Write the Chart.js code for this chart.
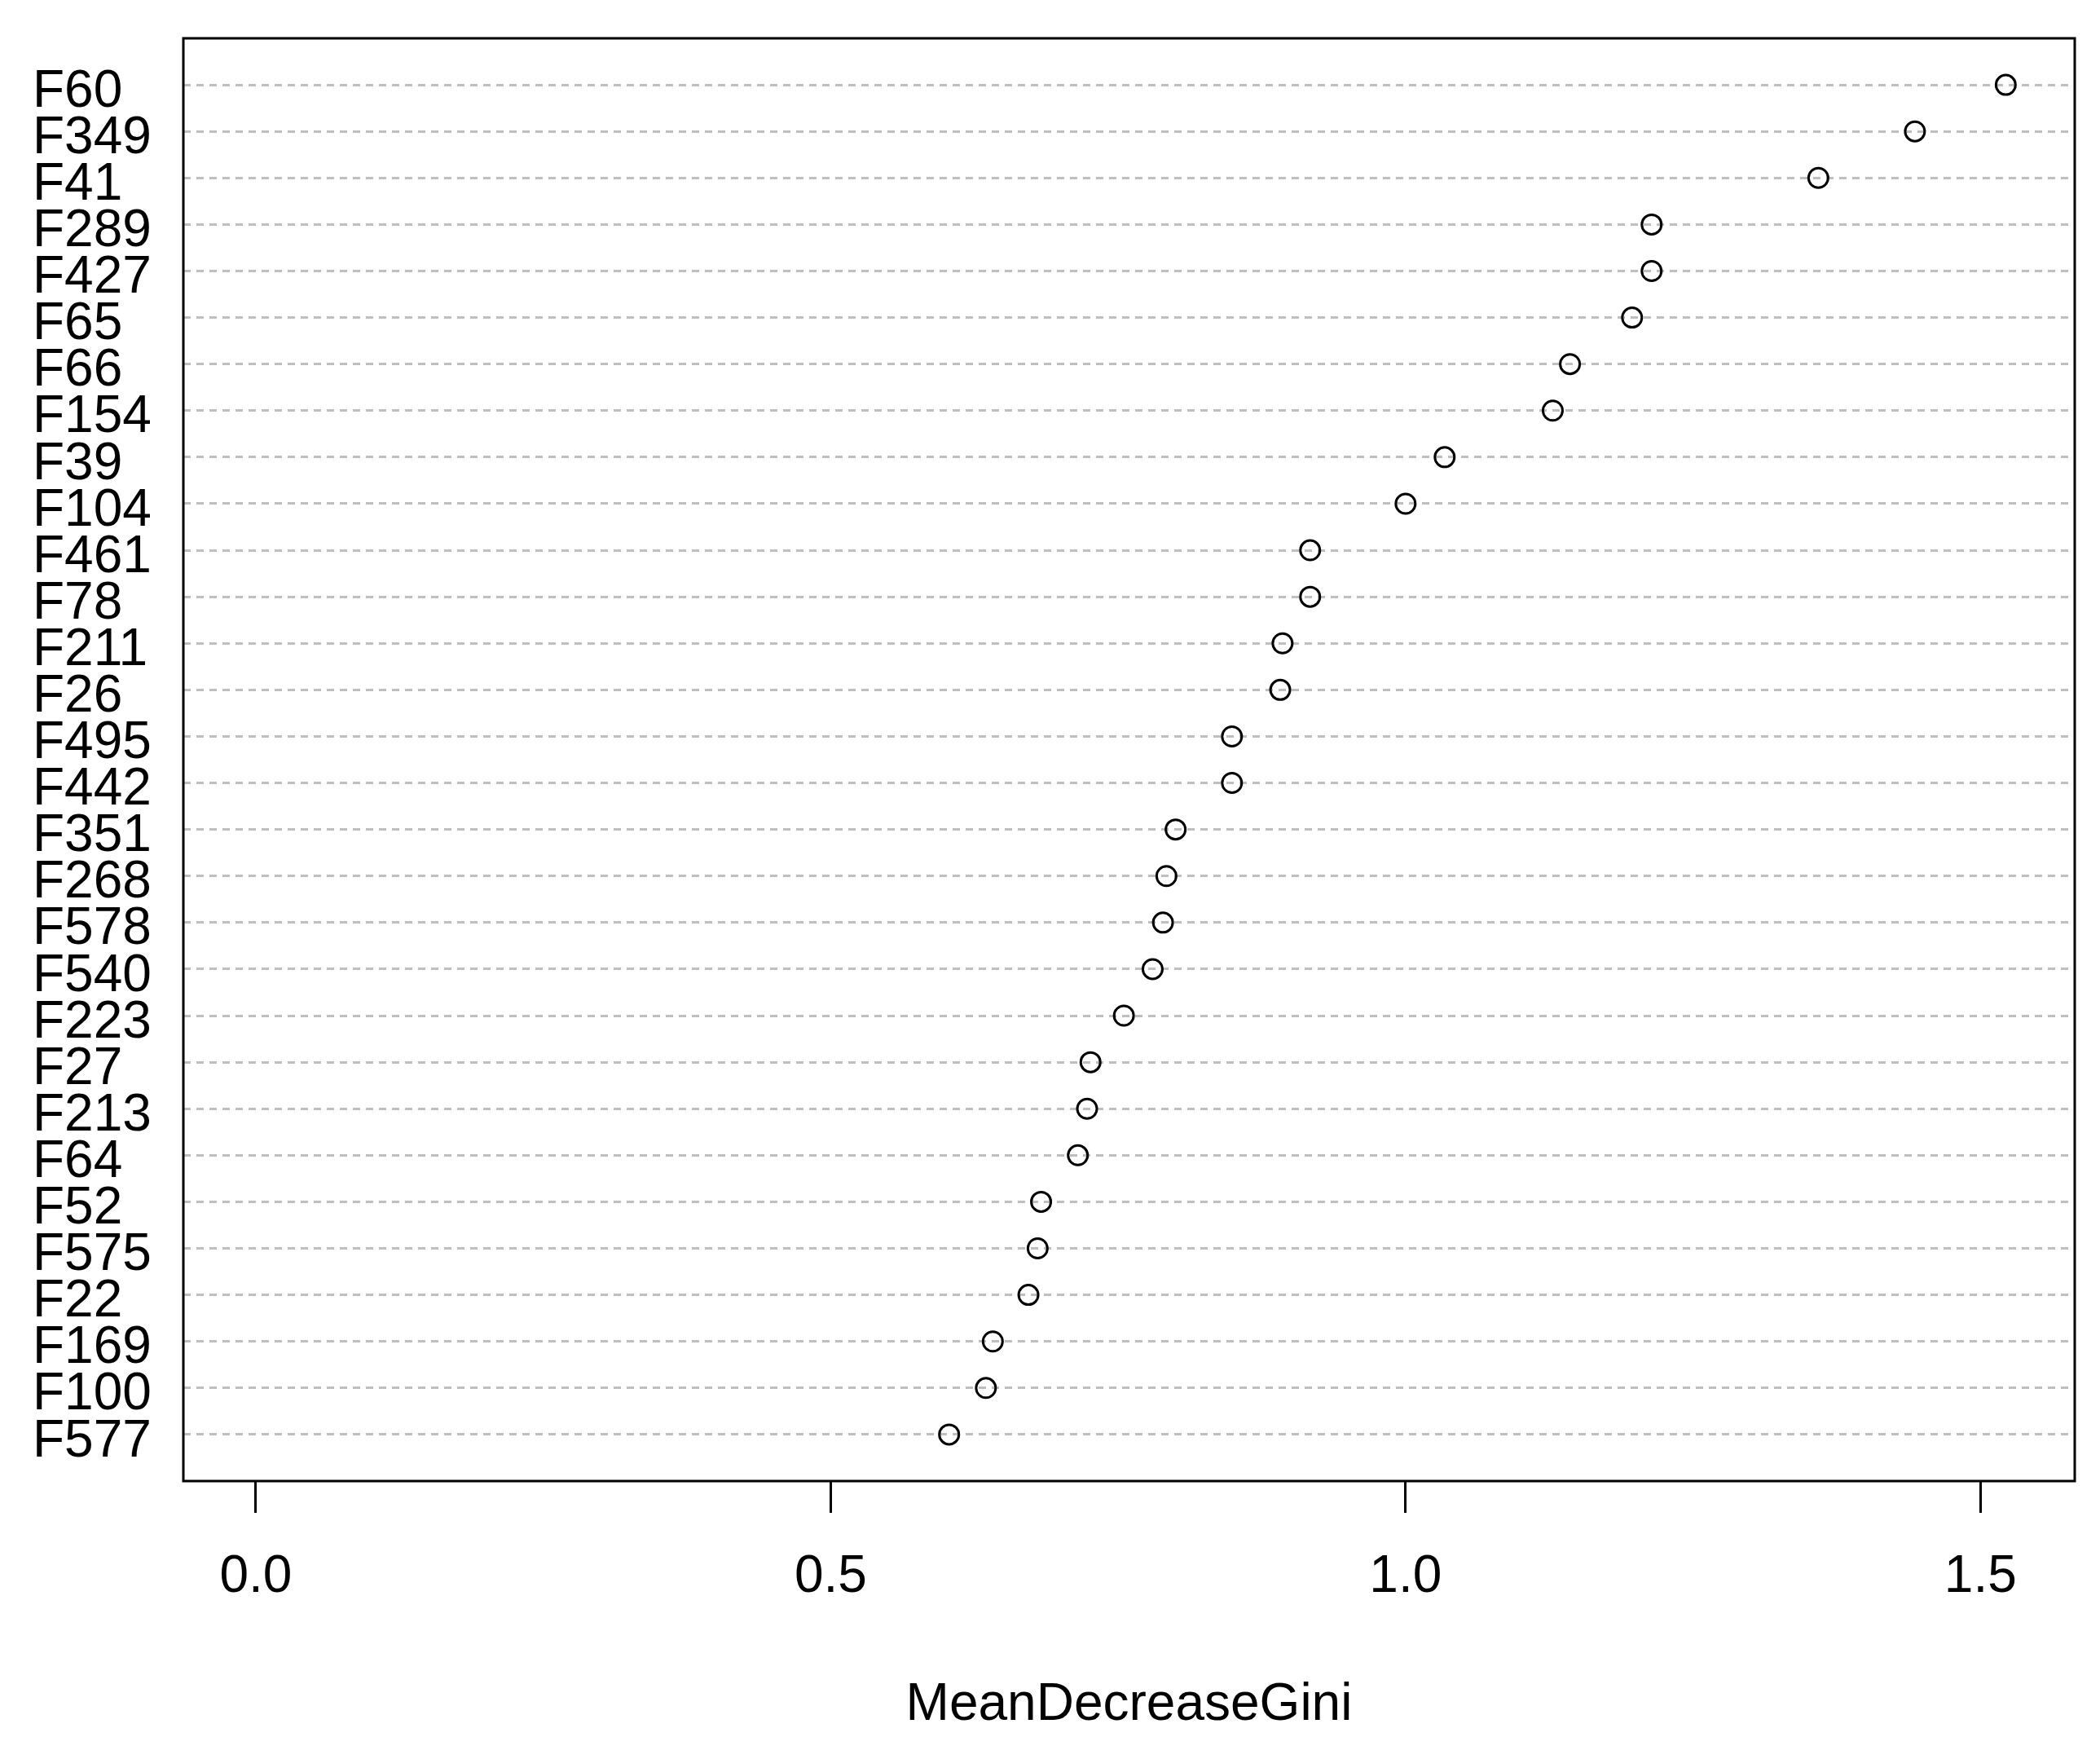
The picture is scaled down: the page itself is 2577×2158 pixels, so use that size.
<!DOCTYPE html>
<html>
<head>
<meta charset="utf-8">
<script src="https://cdn.jsdelivr.net/npm/chart.js@4/dist/chart.umd.min.js"></script>
<style>
  body { margin: 0; background: #fff; }
  #wrap { width: 2577px; height: 2158px; }
</style>
</head>
<body>
<div id="wrap"><canvas id="grafico"></canvas></div>
<script>
const features = [
  "F60", "F349", "F41", "F289", "F427", "F65", "F66", "F154", "F39", "F104",
  "F461", "F78", "F211", "F26", "F495", "F442", "F351", "F268", "F578", "F540",
  "F223", "F27", "F213", "F64", "F52", "F575", "F22", "F169", "F100", "F577",
];
const gini = [
  1.522, 1.443, 1.359, 1.214, 1.214, 1.197, 1.143, 1.128, 1.034, 1.000,
  0.917, 0.917, 0.893, 0.891, 0.849, 0.849, 0.800, 0.792, 0.789, 0.780,
  0.755, 0.726, 0.723, 0.715, 0.683, 0.680, 0.672, 0.641, 0.635, 0.603,
];
const xTicks = [0, 0.5, 1.0, 1.5];

const fuente = { family: "'Liberation Sans', Arial, sans-serif", size: 64 };

// marco negro alrededor del area del grafico (como box() en R)
const marco = {
  id: "marco",
  afterDraw(chart) {
    const { ctx, chartArea: a } = chart;
    ctx.save();
    ctx.strokeStyle = "#000";
    ctx.lineWidth = 3;
    ctx.strokeRect(a.left, a.top, a.right - a.left, a.bottom - a.top);
    ctx.restore();
  },
};

const ctx = document.getElementById("grafico").getContext("2d");

new Chart(ctx, {
  type: "scatter",
  data: {
    datasets: [
      {
        label: "MeanDecreaseGini",
        data: gini.map((v, i) => ({ x: v, y: i + 1 })),
        pointStyle: "circle",
        pointRadius: 12,
        pointHoverRadius: 12,
        pointBorderWidth: 3,
        borderColor: "#000",
        backgroundColor: "rgba(0,0,0,0)",
      },
    ],
  },
  options: {
    responsive: true,
    maintainAspectRatio: false,
    animation: false,
    events: [],
    layout: { padding: { left: 40, top: 47, right: 31, bottom: 0 } },
    plugins: {
      legend: { display: false },
      tooltip: { enabled: false },
    },
    scales: {
      x: {
        type: "linear",
        min: -0.063,
        max: 1.582,
        afterBuildTicks: (axis) => {
          axis.ticks = xTicks.map((v) => ({ value: v }));
        },
        afterFit: (axis) => {
          axis.height = 341;
        },
        border: { display: false },
        grid: {
          drawOnChartArea: false,
          drawTicks: true,
          tickLength: 39,
          tickWidth: 3,
          tickColor: "#000",
        },
        ticks: {
          color: "#000",
          font: fuente,
          padding: 41,
          maxRotation: 0,
          callback: (v) => Number(v).toFixed(1),
        },
        title: {
          display: true,
          text: "MeanDecreaseGini",
          color: "#000",
          font: fuente,
          padding: { top: 0, bottom: 27 },
        },
      },
      y: {
        type: "linear",
        min: 0,
        max: 31,
        reverse: true,
        afterBuildTicks: (axis) => {
          axis.ticks = features.map((f, i) => ({ value: i + 1 }));
        },
        afterFit: (axis) => {
          axis.width = 185;
        },
        // en v4 border.dash es lo que hace punteadas las lineas de la grilla
        border: { display: false, dash: [9, 7] },
        grid: {
          drawTicks: false,
          color: "#bebebe",
          lineWidth: 3,
        },
        ticks: {
          color: "#000",
          font: fuente,
          crossAlign: "far",
          padding: 0,
          labelOffset: 9,
          autoSkip: false,
          callback: (v) => features[v - 1],
        },
      },
    },
  },
  plugins: [marco],
});
</script>
</body>
</html>
